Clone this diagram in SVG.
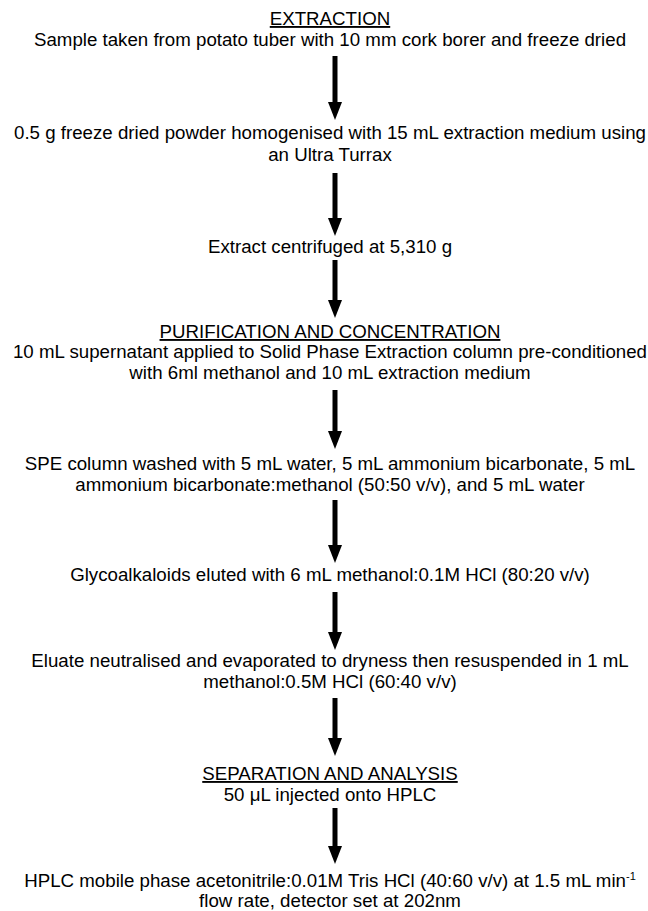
<svg xmlns="http://www.w3.org/2000/svg" width="648" height="911" viewBox="0 0 648 911">
<defs>
<style>
text{font-family:"Liberation Sans",Arial,sans-serif;font-size:18.7px;fill:#000;text-anchor:middle}
.h{text-decoration:underline}
.c{stroke:#000;stroke-width:5;fill:none}
</style>
<marker id="ah" markerUnits="userSpaceOnUse" markerWidth="18" markerHeight="14" refX="1" refY="7" orient="auto" viewBox="0 0 18 14">
<path d="M0,0 L18,7 L0,14 Z" fill="#000"/>
</marker>
</defs>
<rect width="648" height="911" fill="#fff"/>
<g id="connectors">
<line class="c" x1="335" y1="56" x2="335" y2="103" marker-end="url(#ah)"/>
<line class="c" x1="335" y1="173" x2="335" y2="219" marker-end="url(#ah)"/>
<line class="c" x1="335" y1="260" x2="335" y2="301" marker-end="url(#ah)"/>
<line class="c" x1="335" y1="390" x2="335" y2="432" marker-end="url(#ah)"/>
<line class="c" x1="335" y1="500" x2="335" y2="546" marker-end="url(#ah)"/>
<line class="c" x1="335" y1="592" x2="335" y2="633" marker-end="url(#ah)"/>
<line class="c" x1="335" y1="698" x2="335" y2="739" marker-end="url(#ah)"/>
<line class="c" x1="335" y1="808" x2="335" y2="847" marker-end="url(#ah)"/>
</g>
<g id="n1"><text x="330" y="25" class="h">EXTRACTION</text><text x="330" y="46">Sample taken from potato tuber with 10 mm cork borer and freeze dried</text></g>
<g id="n2"><text x="330" y="139">0.5 g freeze dried powder homogenised with 15 mL extraction medium using</text><text x="330" y="161">an Ultra Turrax</text></g>
<g id="n3"><text x="330" y="253">Extract centrifuged at 5,310 g</text></g>
<g id="n4"><text x="330" y="338" class="h">PURIFICATION AND CONCENTRATION</text><text x="330" y="358">10 mL supernatant applied to Solid Phase Extraction column pre-conditioned</text><text x="330" y="379">with 6ml methanol and 10 mL extraction medium</text></g>
<g id="n5"><text x="330" y="470">SPE column washed with 5 mL water, 5 mL ammonium bicarbonate, 5 mL</text><text x="330" y="491">ammonium bicarbonate:methanol (50:50 v/v), and 5 mL water</text></g>
<g id="n6"><text x="330" y="581">Glycoalkaloids eluted with 6 mL methanol:0.1M HCl (80:20 v/v)</text></g>
<g id="n7"><text x="330" y="667">Eluate neutralised and evaporated to dryness then resuspended in 1 mL</text><text x="330" y="688">methanol:0.5M HCl (60:40 v/v)</text></g>
<g id="n8"><text x="330" y="780" class="h">SEPARATION AND ANALYSIS</text><text x="330" y="801">50 μL injected onto HPLC</text></g>
<g id="n9"><text x="330" y="887">HPLC mobile phase acetonitrile:0.01M Tris HCl (40:60 v/v) at 1.5 mL min<tspan font-size="11" dy="-7">-1</tspan></text><text x="330" y="907">flow rate, detector set at 202nm</text></g>
</svg>
